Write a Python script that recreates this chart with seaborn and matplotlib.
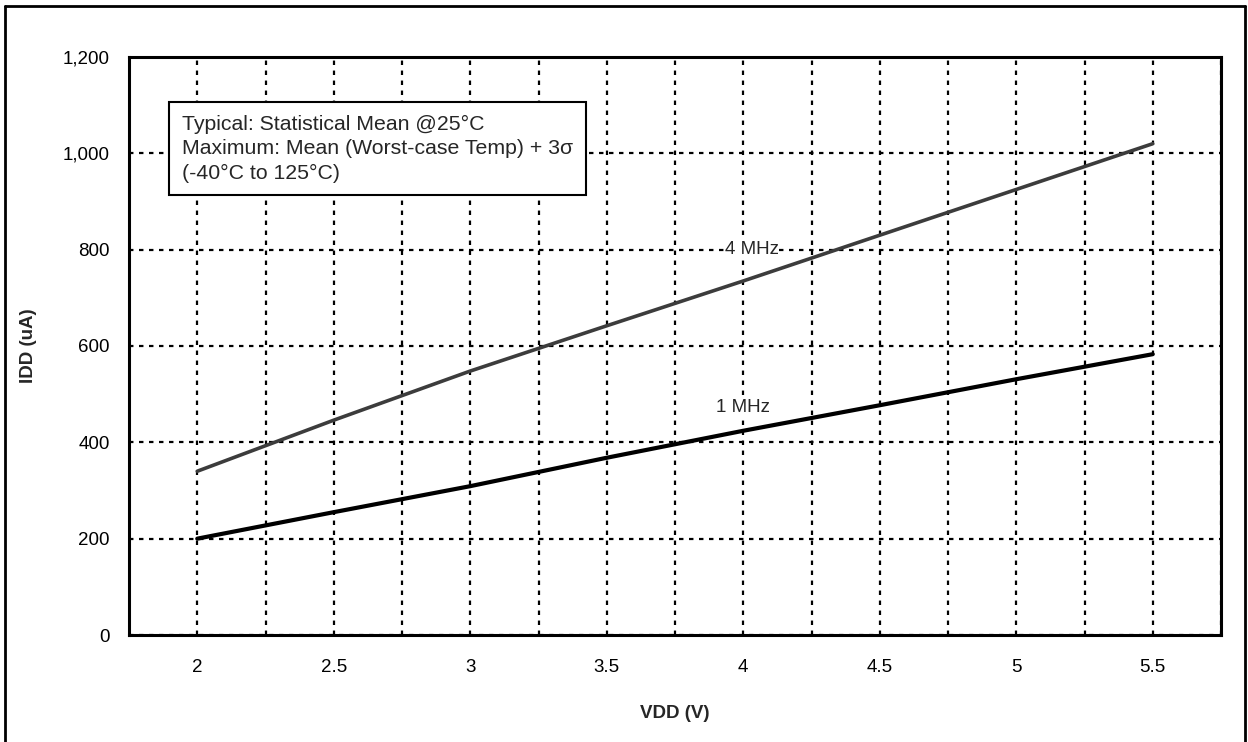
import pandas as pd
import numpy as np
import matplotlib
matplotlib.use('Agg')
import matplotlib.pyplot as plt
import seaborn as sns
from matplotlib.ticker import MultipleLocator, FuncFormatter
from matplotlib.lines import Line2D

##datos
vdd = [2.0, 2.5, 3.0, 3.5, 4.0, 4.5, 5.0, 5.5]
idd_4mhz = [340, 446, 548, 642, 735, 830, 925, 1020]
idd_1mhz = [200, 255, 309, 368, 424, 477, 531, 583]
freq_labels = ['4 MHz', '1 MHz']
note_lines = ['Typical: Statistical Mean @25°C',
              'Maximum: Mean (Worst-case Temp) + 3σ',
              '(-40°C to 125°C)']

tmp_1 = pd.DataFrame({'VDD': vdd * 2,
                      'IDD': idd_4mhz + idd_1mhz,
                      'Freq': [freq_labels[0]] * len(vdd) + [freq_labels[1]] * len(vdd)})

sns.set_style('white')
plt.rcParams['font.family'] = ['Liberation Sans', 'DejaVu Sans']

fig = plt.figure(figsize=(12.48, 7.42), dpi=100)
ax = fig.add_axes([129/1248, 1 - 635/742, (1221-129)/1248, (635-57)/742])

sns.lineplot(data=tmp_1, x='VDD', y='IDD', hue='Freq',
             palette={'4 MHz': '#3c3c3c', '1 MHz': '#000000'},
             legend=False, ax=ax)
ax.lines[0].set_linewidth(2.6)
ax.lines[1].set_linewidth(3.0)

ax.set_xlim(1.75, 5.75)
ax.set_ylim(0, 1200)

ax.xaxis.set_major_locator(MultipleLocator(0.5))
ax.xaxis.set_minor_locator(MultipleLocator(0.25))
ax.yaxis.set_major_locator(MultipleLocator(200))
ax.yaxis.set_minor_locator(MultipleLocator(40))
ax.xaxis.set_major_formatter(FuncFormatter(lambda v, p: ('%g' % v) if 1.9 < v < 5.6 else ''))
ax.yaxis.set_major_formatter(FuncFormatter(lambda v, p: '{:,.0f}'.format(v)))

ax.tick_params(axis='both', which='both', direction='in', colors='black', labelsize=13.5)
ax.tick_params(axis='x', which='both', length=5, width=1.2, pad=17)
ax.tick_params(axis='y', which='both', length=5, width=1.2, pad=14)

##grilla punteada
grid_style = dict(color='black', linestyle=(0, (2, 2.5)), linewidth=1.6)
ax.grid(True, which='major', axis='both', **grid_style)
ax.grid(True, which='minor', axis='x', **grid_style)
ax.set_axisbelow(True)

for s in ax.spines.values():
    s.set_color('black')
    s.set_linewidth(2.2)

ax.set_xlabel('VDD (V)', fontsize=13.5, fontweight='bold')
ax.set_ylabel('IDD (uA)', fontsize=13.5, fontweight='bold')
ax.xaxis.set_label_coords(0.5, 1 - (705 - 57) / 578)
ax.yaxis.set_label_coords((37 - 129) / 1092, 0.5)

ax.text(4.03, 801, freq_labels[0], fontsize=13.5, ha='center', va='center',
        bbox=dict(facecolor='white', edgecolor='none', pad=0.5))
ax.text(4.0, 473, freq_labels[1], fontsize=13.5, ha='center', va='center',
        bbox=dict(facecolor='white', edgecolor='none', pad=0.5))

ax.text((182 - 129) / 1092, (635 - 115) / 578, '\n'.join(note_lines),
        transform=ax.transAxes, fontsize=15.3, ha='left', va='top', linespacing=1.35,
        bbox=dict(boxstyle='square,pad=0.6', facecolor='white', edgecolor='black', linewidth=1.5),
        zorder=5)

##marco exterior de la figura
for xs, ys in [([5/1248, 5/1248], [0, 1 - 6/742]),
               ([5/1248, 1245/1248], [1 - 6/742, 1 - 6/742]),
               ([1245/1248, 1245/1248], [0, 1 - 6/742])]:
    fig.add_artist(Line2D(xs, ys, color='black', linewidth=2.0, transform=fig.transFigure))

fig.savefig('out.png', dpi=100)
